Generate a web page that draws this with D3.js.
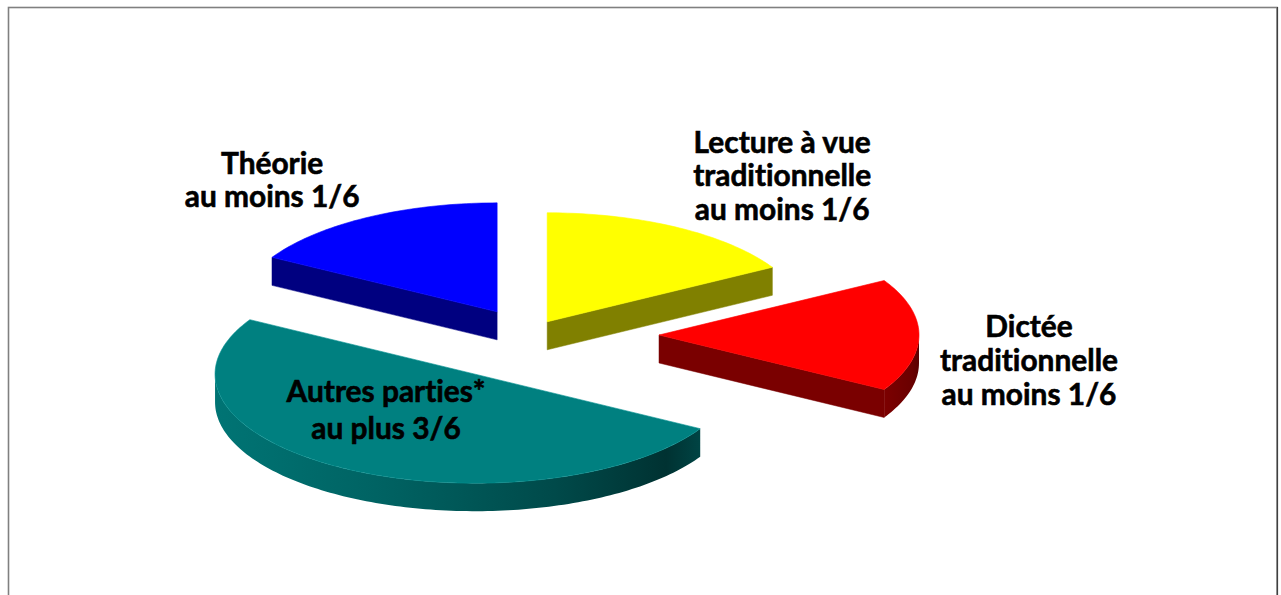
<!DOCTYPE html>
<html><head><meta charset="utf-8">
<script src="https://cdn.jsdelivr.net/npm/d3@7"></script>
<style>html,body{margin:0;padding:0;background:#fff;overflow:hidden}
text{font-variant-ligatures:none;font-feature-settings:"liga" 0,"clig" 0;}</style>
</head><body>
<svg id="chart" width="1281" height="595"></svg>
<script>
// ---- data ----
const categories = ["Lecture à vue traditionnelle", "Dictée traditionnelle", "Autres parties*", "Théorie"];
const values = [1, 1, 3, 1];
const labelLines = [
  ["Lecture à vue", "traditionnelle", "au moins 1/6"],
  ["Dictée", "traditionnelle", "au moins 1/6"],
  ["Autres parties*", "au plus 3/6"],
  ["Théorie", "au moins 1/6"]
];
// ---- style ----
const topColors = ["#FFFF00", "#FF0000", "#008080", "#0000FF"];
const sideColors = ["#808000", "#7A0000", "#005C5C", "#000080"];
const explode = [0.14, 0.50, 0.415, 0.245];
const labelDX = [235, 370, -89, -225];
const labelDY = [-169, 2, 28, -138];
const lineGap = [33.5, 34, 37, 33];

const W = 1281, H = 595;
const cx = 529, cy = 335, rx = 260, ry = 109, depth = 28;

const svg = d3.select("#chart");
svg.append("rect").attr("width", W).attr("height", H).attr("fill", "#fff");
svg.append("rect").attr("x", 8.5).attr("y", 7.5).attr("width", 1268.5).attr("height", 640)
  .attr("fill", "none").attr("stroke", "#808080").attr("stroke-width", 1.6);
svg.append("line").attr("x1", 1277.5).attr("x2", 1277.5).attr("y1", 7).attr("y2", H)
  .attr("stroke", "#404040").attr("stroke-width", 1.2);

const defs = svg.append("defs");
const gT = defs.append("linearGradient").attr("id", "tealSide").attr("x1", "0").attr("x2", "1").attr("y1", "0").attr("y2", "0");
[[0, "#007474"], [0.35, "#006262"], [0.7, "#004a4a"], [0.93, "#003232"], [1, "#004444"]]
  .forEach(([o, c]) => gT.append("stop").attr("offset", o).attr("stop-color", c));
const gR = defs.append("linearGradient").attr("id", "redSide").attr("x1", "0").attr("x2", "1").attr("y1", "0").attr("y2", "0");
[[0, "#7c0000"], [0.8, "#6a0000"], [1, "#5a0000"]]
  .forEach(([o, c]) => gR.append("stop").attr("offset", o).attr("stop-color", c));
const outerFill = [null, "url(#redSide)", "url(#tealSide)", null];

const xS = d3.scaleLinear().domain([-1, 1]).range([cx - rx, cx + rx]);
const yS = d3.scaleLinear().domain([-1, 1]).range([cy - ry, cy + ry]);

const pie = d3.pie().sort(null).startAngle(0).endAngle(2 * Math.PI);
const arcs = pie(values);

const line = d3.line();
function pt(a, r, ox, oy, dz) {
  return [xS(ox + r * Math.sin(a)), yS(oy - r * Math.cos(a)) + dz];
}
function arcPts(a0, a1, ox, oy, dz) {
  const n = Math.max(4, Math.ceil((a1 - a0) / 0.02));
  return d3.range(n + 1).map(k => pt(a0 + (a1 - a0) * k / n, 1, ox, oy, dz));
}

const slices = arcs.map((d, i) => {
  const mid = (d.startAngle + d.endAngle) / 2;
  const ox = explode[i] * Math.sin(mid), oy = -explode[i] * Math.cos(mid);
  return {d, i, mid, ox, oy};
});
const order = slices.slice().sort((a, b) => a.oy - b.oy);

const g = svg.append("g");
order.forEach(s => {
  const {d, i, ox, oy} = s;
  const a0 = d.startAngle, a1 = d.endAngle;
  const grp = g.append("g");
  const apex = (dz) => pt(0, 0, ox, oy, dz);
  [[a0, a0 - Math.PI / 2], [a1, a1 + Math.PI / 2]].forEach(([a, nrm]) => {
    if (Math.cos(nrm) < -1e-6) {
      const p = [apex(0), pt(a, 1, ox, oy, 0), pt(a, 1, ox, oy, depth), apex(depth)];
      grp.append("path").attr("d", line(p) + "Z").attr("fill", sideColors[i])
        .attr("stroke", sideColors[i]).attr("stroke-width", 0.5);
    }
  });
  const s0 = Math.max(a0, Math.PI / 2), s1 = Math.min(a1, 3 * Math.PI / 2);
  if (s1 > s0) {
    const p = arcPts(s0, s1, ox, oy, 0).concat(arcPts(s0, s1, ox, oy, depth).reverse());
    grp.append("path").attr("d", line(p) + "Z").attr("fill", outerFill[i] || sideColors[i])
      .attr("stroke", "none");
  }
  const p = [apex(0)].concat(arcPts(a0, a1, ox, oy, 0));
  grp.append("path").attr("d", line(p) + "Z").attr("fill", topColors[i])
    .attr("stroke", d3.color(topColors[i]).brighter(0.3)).attr("stroke-width", 0.6);
});

// labels
const font = "Lato, 'Open Sans', sans-serif";
const probe = svg.append("text").attr("font-family", font).attr("font-weight", 700)
  .attr("font-size", 100).text("traditionnelle");
const w100 = probe.node().getComputedTextLength();
probe.remove();
const fs = 100 * 178 / w100;

slices.forEach(s => {
  const base = pt(0, 0, s.ox, s.oy, 0);
  const t = svg.append("text").attr("font-family", font).attr("font-weight", 700)
    .attr("font-size", fs).attr("fill", "#000").attr("stroke", "#000").attr("stroke-width", 0.6)
    .attr("text-anchor", "middle");
  labelLines[s.i].forEach((ln, k) => {
    t.append("tspan").attr("x", base[0] + labelDX[s.i])
      .attr("y", base[1] + labelDY[s.i] + k * lineGap[s.i]).text(ln);
  });
});
</script>
</body></html>
